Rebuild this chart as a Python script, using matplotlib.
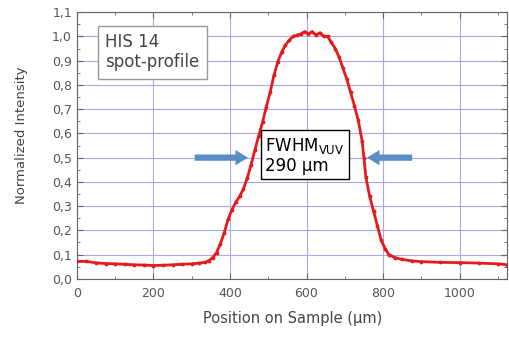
"""
Spot profile of the HIS 14 VUV source, normalized intensity vs position.
"""

import matplotlib
matplotlib.use("Agg")
import matplotlib.pyplot as plt
from matplotlib.ticker import MultipleLocator, FuncFormatter

plt.rcParams['font.family'] = ['DejaVu Sans']

# Data
position_um = [0, 25, 50, 75, 100, 125, 150, 175, 200, 225, 250, 275, 300, 320,
               335, 345, 355, 365, 375, 385, 395, 405, 415, 425, 435, 445, 455,
               465, 475, 485, 495, 505, 515, 525, 535, 545, 555, 565, 575, 585,
               595, 605, 615, 625, 635, 645, 655, 665, 675, 685, 695, 705, 715,
               725, 735, 745, 750, 755, 765, 775, 785, 795, 805, 815, 830, 850,
               875, 900, 950, 1000, 1050, 1100, 1125]
intensity = [0.072, 0.072, 0.066, 0.063, 0.062, 0.060, 0.058, 0.057, 0.055,
             0.056, 0.058, 0.060, 0.062, 0.065, 0.068, 0.075, 0.088, 0.108,
             0.145, 0.190, 0.245, 0.285, 0.315, 0.340, 0.370, 0.415, 0.470,
             0.530, 0.590, 0.645, 0.710, 0.770, 0.840, 0.895, 0.935, 0.965,
             0.985, 1.000, 1.005, 1.010, 1.020, 1.010, 1.020, 1.005, 1.015,
             1.000, 1.000, 0.975, 0.950, 0.915, 0.870, 0.825, 0.770, 0.715,
             0.655, 0.570, 0.500, 0.420, 0.340, 0.280, 0.220, 0.160, 0.125,
             0.100, 0.088, 0.080, 0.074, 0.071, 0.068, 0.067, 0.065, 0.062,
             0.058]

box_label = "HIS 14\nspot-profile"
fwhm_label = "FWHM$_{\\mathregular{VUV}}$\n290 µm"
half_max = 0.5
arrow_left = (308, 447)    # tail, head
arrow_right = (876, 758)

fig = plt.figure(figsize=(5.09, 3.38), dpi=100)
ax = fig.add_axes([0.151, 0.175, 0.846, 0.789])

ax.plot(position_um, intensity, '-', color='#e41a1c', lw=2.0,
        marker='.', ms=3.5, zorder=3)

ax.set_xlim(0, 1125)
ax.set_ylim(0, 1.1)

ax.xaxis.set_major_locator(MultipleLocator(200))
ax.xaxis.set_minor_locator(MultipleLocator(100))
ax.yaxis.set_major_locator(MultipleLocator(0.1))
ax.yaxis.set_minor_locator(MultipleLocator(0.05))
ax.yaxis.set_major_formatter(FuncFormatter(lambda v, p: f"{v:.1f}".replace('.', ',')))

ax.tick_params(which='both', direction='in', top=True, right=True,
               colors='#666666', labelcolor='#555555', labelsize=9)
ax.tick_params(which='major', length=4)
ax.tick_params(which='minor', length=2)
ax.tick_params(axis='x', pad=6)
ax.grid(True, which='major', color='#a8a8f0', lw=0.8)
ax.set_axisbelow(True)
for s in ax.spines.values():
    s.set_color('#666666')

ax.set_xlabel("Position on Sample (µm)", fontsize=10.5, color='#444444', labelpad=8)
ax.set_ylabel("Normalized Intensity", fontsize=9.5, color='#444444')
ax.yaxis.set_label_coords(-0.113, 0.54)

# annotation boxes
ax.text(74, 0.935, box_label, fontsize=12, color='#444444', va='center',
        ha='left', linespacing=1.15,
        bbox=dict(boxstyle='square,pad=0.45', fc='white', ec='#999999', lw=1))
ax.text(492, 0.51, fwhm_label, fontsize=12, color='black',
        va='center', ha='left', linespacing=1.1, zorder=5,
        bbox=dict(boxstyle='square,pad=0.25', fc='white', ec='black', lw=1))

for tail, head in (arrow_left, arrow_right):
    ax.annotate("", xy=(head, half_max), xytext=(tail, half_max), zorder=4,
                arrowprops=dict(arrowstyle='simple,head_width=1.1,head_length=0.9,tail_width=0.45',
                                fc='#5a8cc6', ec='none', shrinkA=0, shrinkB=0))

fig.savefig("out.png", dpi=100)
